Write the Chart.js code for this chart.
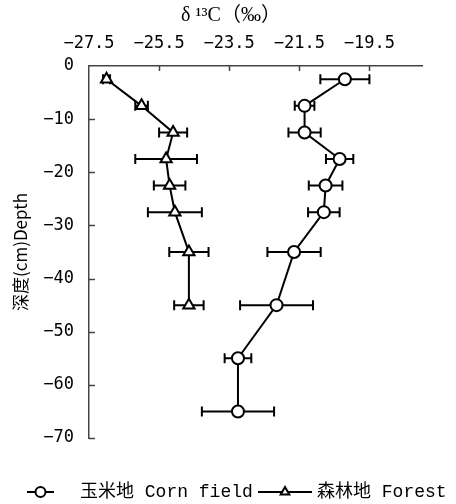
<!DOCTYPE html>
<html><head><meta charset="utf-8">
<script src="https://cdn.jsdelivr.net/npm/chart.js@4.4.1/dist/chart.umd.min.js"></script>
<style>html,body{margin:0;padding:0;background:#fff;} canvas{display:block;}</style>
</head><body>
<canvas id="c" width="456" height="504"></canvas>
<script>
// ---- data ----
const cornDepths   = [-2.5, -7.5, -12.5, -17.5, -22.5, -27.5, -35, -45, -55, -65];
const cornDelta    = [-20.2, -21.35, -21.35, -20.35, -20.75, -20.8, -21.65, -22.15, -23.25, -23.25];
const cornErr      = [0.7, 0.28, 0.46, 0.39, 0.48, 0.45, 0.76, 1.04, 0.38, 1.03];
const forestDepths = [-2.5, -7.5, -12.5, -17.5, -22.5, -27.5, -35, -45];
const forestDelta  = [-27.0, -26.0, -25.1, -25.3, -25.2, -25.05, -24.65, -24.65];
const forestErr    = [0.1, 0.18, 0.4, 0.88, 0.45, 0.77, 0.56, 0.42];
const xTicks = [-27.5, -25.5, -23.5, -21.5, -19.5];
const yTicks = [0, -10, -20, -30, -40, -50, -60, -70];
const seriesNames = ['玉米地 Corn field', '森林地 Forest'];
const xTitle = 'δ ¹³C（‰）';
const yTitle = '深度(cm)Depth';

const toPts = (xs, ys) => xs.map((v, i) => ({x: v, y: ys[i]}));
const minus = s => String(s).replace('-', '\u2212');

const errorBars = {
  id: 'errorBars',
  beforeDatasetsDraw(chart) {
    const {ctx, scales: {x, y}} = chart;
    ctx.save();
    ctx.strokeStyle = '#000';
    ctx.lineWidth = 2;
    chart.data.datasets.forEach(ds => {
      ds.data.forEach((p, i) => {
        const e = ds.errors[i];
        const x0 = x.getPixelForValue(p.x - e), x1 = x.getPixelForValue(p.x + e);
        const py = y.getPixelForValue(p.y);
        ctx.beginPath();
        ctx.moveTo(x0, py); ctx.lineTo(x1, py);
        ctx.moveTo(x0, py - 5); ctx.lineTo(x0, py + 5);
        ctx.moveTo(x1, py - 5); ctx.lineTo(x1, py + 5);
        ctx.stroke();
      });
    });
    ctx.restore();
  }
};

const innerTicks = {
  id: 'innerTicks',
  afterDraw(chart) {
    const {ctx, chartArea: a, scales: {x, y}} = chart;
    ctx.save();
    ctx.strokeStyle = '#444';
    ctx.lineWidth = 1.5;
    ctx.beginPath();
    xTicks.slice(1).forEach(v => {
      const px = Math.round(x.getPixelForValue(v)) + 0.5;
      ctx.moveTo(px, a.top); ctx.lineTo(px, a.top + 5);
    });
    yTicks.slice(1).forEach(v => {
      const py = Math.round(y.getPixelForValue(v)) + 0.5;
      ctx.moveTo(a.left, py); ctx.lineTo(a.left + 6, py);
    });
    ctx.stroke();
    ctx.restore();
  }
};

// shift the chart title so it sits where the reference places it
const titleShift = {
  id: 'titleShift',
  afterLayout(chart) {
    if (chart.titleBlock) { chart.titleBlock.left += 20; chart.titleBlock.right += 20; }
  }
};

const customLegend = {
  id: 'customLegend',
  afterDraw(chart) {
    const {ctx} = chart;
    const yy = 492;
    ctx.save();
    ctx.font = '18px "Liberation Mono", "Noto Sans CJK SC"';
    ctx.textBaseline = 'middle';
    const items = [
      {x0: 27, x1: 54, style: 'circle', tx: 80},
      {x0: 258, x1: 312, style: 'triangle', tx: 317}
    ];
    items.forEach((it, i) => {
      ctx.strokeStyle = '#000';
      ctx.lineWidth = 2;
      ctx.beginPath(); ctx.moveTo(it.x0, yy); ctx.lineTo(it.x1, yy); ctx.stroke();
      ctx.fillStyle = '#fff';
      Chart.helpers.drawPoint(ctx, {pointStyle: it.style, radius: 5, borderWidth: 2}, (it.x0 + it.x1) / 2, yy);
      ctx.fillStyle = '#000';
      ctx.fillText(seriesNames[i], it.tx, yy);
    });
    ctx.restore();
  }
};

const tickFont = {family: '"DejaVu Sans Mono", monospace', size: 17};

new Chart(document.getElementById('c'), {
  type: 'scatter',
  data: {
    datasets: [
      {label: seriesNames[0], data: toPts(cornDelta, cornDepths), errors: cornErr,
       showLine: true, borderColor: '#000', borderWidth: 2, pointStyle: 'circle',
       pointRadius: 6, pointBackgroundColor: '#fff', pointBorderColor: '#000', pointBorderWidth: 2},
      {label: seriesNames[1], data: toPts(forestDelta, forestDepths), errors: forestErr,
       showLine: true, borderColor: '#000', borderWidth: 2, pointStyle: 'triangle',
       pointRadius: 6.5, pointBackgroundColor: '#fff', pointBorderColor: '#000', pointBorderWidth: 2}
    ]
  },
  options: {
    responsive: false,
    animation: false,
    layout: {padding: {left: 0, right: 34, top: 0, bottom: 66}},
    plugins: {
      legend: {display: false}, tooltip: {enabled: false},
      title: {display: true, text: xTitle, color: '#000', align: 'center',
              font: {family: '"Liberation Serif", "Noto Sans CJK SC"', size: 20, weight: 'normal', lineHeight: 1.2},
              padding: {top: 4, bottom: 0}}
    },
    scales: {
      x: {
        type: 'linear', position: 'top', min: -27.5, max: -18,
        afterBuildTicks: s => { s.ticks = xTicks.map(v => ({value: v})); },
        afterFit: s => { s.height = 38; },
        grid: {display: false, drawTicks: false},
        border: {display: true, color: '#444', width: 1.5},
        ticks: {font: tickFont, color: '#000', padding: 12, maxRotation: 0,
                callback: v => minus(v.toFixed(1))}
      },
      y: {
        type: 'linear', min: -70, max: 0,
        afterBuildTicks: s => { s.ticks = yTicks.map(v => ({value: v})); },
        afterFit: s => { s.width = 89; },
        grid: {display: false, drawTicks: false},
        border: {display: true, color: '#444', width: 1.5},
        ticks: {font: tickFont, color: '#000', padding: 15, callback: v => minus(v)},
        title: {display: true, text: yTitle, color: '#000',
                font: {family: '"Noto Sans CJK SC", "DejaVu Sans"', size: 17},
                padding: {top: 10, bottom: 0}}
      }
    }
  },
  plugins: [titleShift, errorBars, innerTicks, customLegend]
});
</script>
</body></html>
